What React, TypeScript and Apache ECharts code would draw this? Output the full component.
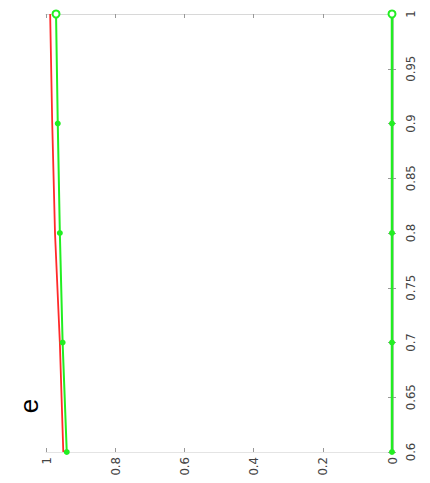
import React, { useEffect, useRef } from "react";
import * as echarts from "echarts";

const xParam = [0.6, 0.7, 0.8, 0.9, 1.0];
const greenUpper = [0.94, 0.952, 0.96, 0.966, 0.971];
const redUpper = [0.95, 0.96, 0.974, 0.982, 0.988];
const greenZero = [0, 0, 0, 0, 0];
const labelText = "e";

const FONT = "'Liberation Sans Narrow', 'DejaVu Sans Condensed', 'Liberation Sans', sans-serif";

function pairs(vals: number[], lastHollow: boolean) {
  return vals.map((v, i) => {
    const item: any = { value: [v, xParam[i]] };
    if (lastHollow && (i === vals.length - 1)) {
      item.symbol = "emptyCircle";
      item.symbolSize = 7;
    }
    return item;
  });
}

export default function App() {
  const ref = useRef<HTMLDivElement>(null);
  useEffect(() => {
    if (!ref.current) return;
    const chart = echarts.init(ref.current, undefined, { renderer: "svg" });
    const tickStyle = { show: true, inside: true, length: 4, lineStyle: { color: "#999", width: 1 } };
    chart.setOption({
      animation: false,
      backgroundColor: "#fff",
      grid: { left: 46, right: 38, top: 14, bottom: 31, containLabel: false },
      xAxis: [
        {
          type: "value",
          min: 0,
          max: 1,
          interval: 0.2,
          inverse: true,
          position: "bottom",
          axisLine: { show: true, lineStyle: { color: "#e4e4e4", width: 1 } },
          axisTick: tickStyle,
          splitLine: { show: false },
          axisLabel: {
            rotate: 90,
            margin: 5,
            color: "#444",
            fontSize: 13,
            fontFamily: FONT,
          },
        },
        {
          type: "value",
          min: 0,
          max: 1,
          interval: 0.2,
          inverse: true,
          position: "top",
          axisLine: { show: true, lineStyle: { color: "#d8d8d8", width: 1 } },
          axisTick: tickStyle,
          splitLine: { show: false },
          axisLabel: { show: false },
        },
      ],
      yAxis: [
        {
          type: "value",
          min: 0.6,
          max: 1,
          interval: 0.05,
          position: "right",
          axisLine: { show: true, lineStyle: { color: "#e4e4e4", width: 1 } },
          axisTick: tickStyle,
          splitLine: { show: false },
          axisLabel: {
            rotate: 90,
            margin: 12,
            color: "#444",
            fontSize: 13,
            fontFamily: FONT,
            formatter: (v: number) => String(Math.round(v * 100) / 100),
          },
        },
        {
          type: "value",
          min: 0.6,
          max: 1,
          interval: 0.05,
          position: "left",
          axisLine: { show: true, lineStyle: { color: "#c4c4c4", width: 3 } },
          axisTick: tickStyle,
          splitLine: { show: false },
          axisLabel: { show: false },
        },
      ],
      series: [
        {
          type: "line",
          name: "red",
          data: pairs(redUpper, false),
          showSymbol: false,
          symbol: "none",
          lineStyle: { color: "#ff2a2a", width: 1.8 },
          z: 3,
        },
        {
          type: "line",
          name: "green upper",
          data: pairs(greenUpper, true),
          symbol: "circle",
          symbolSize: 6,
          showSymbol: true,
          itemStyle: { color: "#22ee22" },
          lineStyle: { color: "#22ee22", width: 2 },
          z: 4,
        },
        {
          type: "line",
          name: "green zero",
          data: pairs(greenZero, true),
          symbol: "circle",
          symbolSize: 6,
          showSymbol: true,
          itemStyle: { color: "#22ee22" },
          lineStyle: { color: "#22ee22", width: 2.5 },
          z: 4,
        },
      ],
      graphic: [
        {
          type: "text",
          x: 29,
          y: 406,
          rotation: Math.PI / 2,
          style: {
            text: labelText,
            fontSize: 26,
            fontFamily: "'Liberation Sans', Arial, sans-serif",
            fill: "#000",
            textAlign: "center",
            textVerticalAlign: "middle",
          },
        },
      ],
    });
    return () => chart.dispose();
  }, []);
  return (
    <div
      ref={ref}
      style={{ position: "absolute", left: 0, top: 0, width: 430, height: 483 }}
    />
  );
}
